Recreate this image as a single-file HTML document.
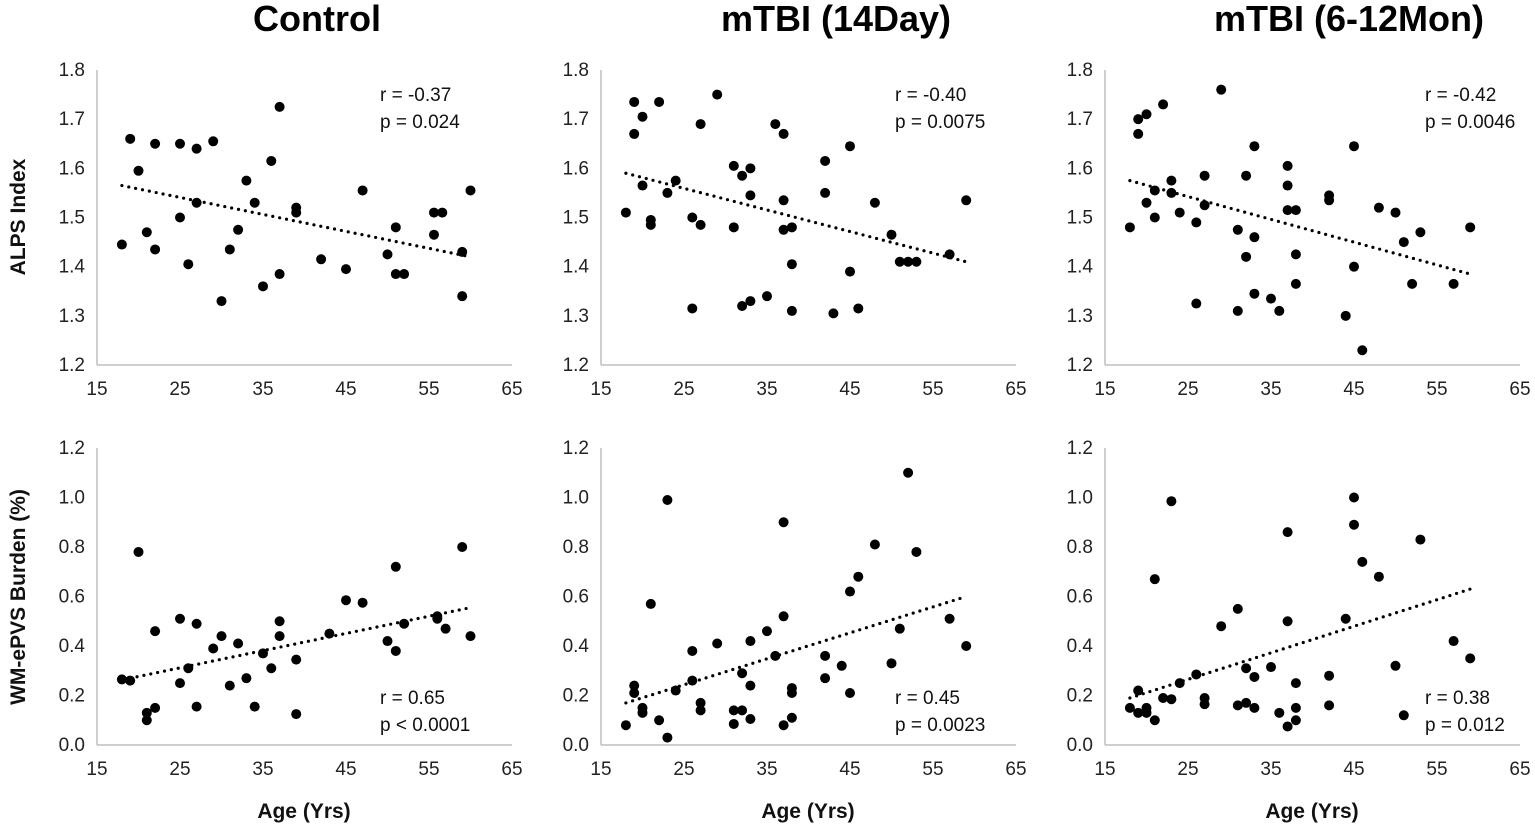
<!DOCTYPE html>
<html><head><meta charset="utf-8"><style>
body{margin:0;background:#fff;}
svg{display:block;font-family:"Liberation Sans",Arial,sans-serif;}
</style></head><body>
<svg id="chart" width="1535" height="832" viewBox="0 0 1535 832"></svg>
<script>
// ---- data ----
const xTicks = [15,25,35,45,55,65];
const yTicksTop = [1.2,1.3,1.4,1.5,1.6,1.7,1.8];
const yTicksBot = [0.0,0.2,0.4,0.6,0.8,1.0,1.2];
const panelTitles = ["Control","mTBI (14Day)","mTBI (6-12Mon)"];
const rTop = ["r = -0.37","r = -0.40","r = -0.42"];
const pTop = ["p = 0.024","p = 0.0075","p = 0.0046"];
const rBot = ["r = 0.65","r = 0.45","r = 0.38"];
const pBot = ["p < 0.0001","p = 0.0023","p = 0.012"];

const ctrlAge = [18,19,20,21,22,22,25,25,26,27,27,29,30,31,32,33,34,35,36,37,37,39,39,42,45,47,50,51,51,52,55.6,55.6,56.6,59,59,60];
const ctrlAlps = [1.445,1.66,1.595,1.47,1.435,1.65,1.65,1.50,1.405,1.64,1.53,1.655,1.33,1.435,1.475,1.575,1.53,1.36,1.615,1.725,1.385,1.52,1.51,1.415,1.395,1.555,1.425,1.48,1.385,1.385,1.465,1.51,1.51,1.43,1.34,1.555];
const ctrlAge2 = [18,19,20,21,21,22,22,25,25,26,27,27,29,30,31,32,33,34,35,36,37,37,39,39,43,45,47,50,51,51,52,56,56,57,59,60];
const ctrlPvs = [0.265,0.26,0.78,0.13,0.10,0.15,0.46,0.51,0.25,0.31,0.49,0.155,0.39,0.44,0.24,0.41,0.27,0.155,0.37,0.31,0.50,0.44,0.345,0.125,0.45,0.585,0.575,0.42,0.38,0.72,0.49,0.52,0.51,0.47,0.80,0.44];

const d14Age = [18,19,19,20,20,21,21,22,23,24,26,26,27,27,29,31,31,32,32,33,33,33,35,36,37,37,37,38,38,38,42,42,43,45,45,46,48,50,51,52,53,57,59];
const d14Alps = [1.51,1.735,1.67,1.705,1.565,1.495,1.485,1.735,1.55,1.575,1.50,1.315,1.69,1.485,1.75,1.605,1.48,1.585,1.32,1.60,1.545,1.33,1.34,1.69,1.67,1.535,1.475,1.48,1.405,1.31,1.615,1.55,1.305,1.645,1.39,1.315,1.53,1.465,1.41,1.41,1.41,1.425,1.535];
const d14Age2 = [18,19,19,20,20,21,22,23,23,24,26,26,27,27,29,31,31,32,32,33,33,33,35,36,37,37,37,38,38,38,42,42,44,45,45,46,48,50,51,52,53,57,59];
const d14Pvs = [0.08,0.24,0.21,0.15,0.13,0.57,0.10,0.99,0.03,0.22,0.38,0.26,0.17,0.14,0.41,0.14,0.085,0.29,0.14,0.42,0.24,0.105,0.46,0.36,0.90,0.52,0.08,0.23,0.21,0.11,0.36,0.27,0.32,0.62,0.21,0.68,0.81,0.33,0.47,1.10,0.78,0.51,0.40];

const m6Age = [18,19,19,20,20,21,21,22,23,23,24,26,26,27,27,29,31,31,32,32,33,33,33,35,36,37,37,37,38,38,38,42,42,44,45,45,46,48,50,51,52,53,57,59];
const m6Alps = [1.48,1.70,1.67,1.71,1.53,1.555,1.50,1.73,1.575,1.55,1.51,1.49,1.325,1.585,1.525,1.76,1.31,1.475,1.585,1.42,1.645,1.46,1.345,1.335,1.31,1.605,1.565,1.515,1.515,1.425,1.365,1.545,1.535,1.30,1.645,1.40,1.23,1.52,1.51,1.45,1.365,1.47,1.365,1.48];
const m6Age2 = [18,19,19,20,20,21,21,22,23,23,24,26,27,27,29,31,31,32,32,33,33,35,36,37,37,37,38,38,38,42,42,44,45,45,46,48,50,51,53,57,59];
const m6Pvs = [0.15,0.22,0.13,0.15,0.13,0.10,0.67,0.19,0.985,0.185,0.25,0.285,0.19,0.165,0.48,0.55,0.16,0.31,0.17,0.275,0.15,0.315,0.13,0.86,0.50,0.075,0.25,0.15,0.10,0.28,0.16,0.51,1.00,0.89,0.74,0.68,0.32,0.12,0.83,0.42,0.35];

const trendTopX = [[18,60],[18,59],[18,59]];
const trendTopY = [[1.565,1.42],[1.59,1.41],[1.575,1.385]];
const trendBotX = [[19,60],[18,59],[18,59]];
const trendBotY = [[0.27,0.555],[0.17,0.60],[0.19,0.63]];

const topAges = [ctrlAge,d14Age,m6Age], topVals=[ctrlAlps,d14Alps,m6Alps];
const botAges = [ctrlAge2,d14Age2,m6Age2], botVals=[ctrlPvs,d14Pvs,m6Pvs];

// ---- layout ----
const NS="http://www.w3.org/2000/svg";
const svg=document.getElementById('chart');
const panelX0=[97,601,1105], panelW=415;
const titleCx=[317,836,1349];
const statDx=[283,294,320];
const rowTop={y0:70,y1:365,min:1.2,max:1.8}, rowBot={y0:448,y1:745,min:0,max:1.2};
function el(tag,attrs,parent){const e=document.createElementNS(NS,tag);for(const k in attrs)e.setAttribute(k,attrs[k]);(parent||svg).appendChild(e);return e;}
function txt(s,attrs,parent){const e=el('text',attrs,parent);e.textContent=s;return e;}

function drawPanel(c,row,ticks,ages,vals,tx,ty,rl,pl,rY,name){
  const x0=panelX0[c];
  const sx=v=>x0+(v-15)/50*panelW;
  const sy=v=>row.y1-(v-row.min)/(row.max-row.min)*(row.y1-row.y0);
  const g=el('g',{});
  
  
  const ya=el('line',{x1:x0,y1:row.y0,x2:x0,y2:row.y1,stroke:'#bfbfbf','stroke-width':1.5},g);
  
  const xa=el('line',{x1:x0,y1:row.y1,x2:x0+panelW,y2:row.y1,stroke:'#bfbfbf','stroke-width':1.5},g);
  
  ticks.forEach(t=>{
    const l=txt(t.toFixed(1),{x:x0-12,y:sy(t)+6,'text-anchor':'end','font-size':19,fill:'#222'},g);
    
  });
  xTicks.forEach(t=>{
    const l=txt(String(t),{x:sx(t),y:row.y1+30,'text-anchor':'middle','font-size':19,fill:'#222'},g);
    
  });
  const tl=el('line',{x1:sx(tx[0]),y1:sy(ty[0]),x2:sx(tx[1]),y2:sy(ty[1]),stroke:'#000','stroke-width':3.2,'stroke-dasharray':'0 7','stroke-linecap':'round'},g);
  
  ages.forEach((a,i)=>{
    const p=el('circle',{cx:sx(a),cy:sy(vals[i]),r:5,fill:'#000'},g);
    
    
  });
  const r=txt(rl,{x:x0+statDx[c],y:rY,'font-size':19,fill:'#111'},g);
  
  const p=txt(pl,{x:x0+statDx[c],y:rY+27,'font-size':19,fill:'#111'},g);
  
}

for(let c=0;c<3;c++){
  const t=txt(panelTitles[c],{x:titleCx[c],y:31,'text-anchor':'middle','font-size':36,'font-weight':'bold',fill:'#000'});
  
  drawPanel(c,rowTop,yTicksTop,topAges[c],topVals[c],trendTopX[c],trendTopY[c],rTop[c],pTop[c],101,'alps-panel');
  drawPanel(c,rowBot,yTicksBot,botAges[c],botVals[c],trendBotX[c],trendBotY[c],rBot[c],pBot[c],704,'pvs-panel');
  const ax=txt('Age (Yrs)',{x:panelX0[c]+207,y:818,'text-anchor':'middle','font-size':21,'font-weight':'bold',fill:'#111'});
  
}
const y1=txt('ALPS Index',{x:0,y:0,'text-anchor':'middle','font-size':21,'font-weight':'bold',fill:'#111',transform:'translate(25,217) rotate(-90)'});

const y2=txt('WM-ePVS Burden (%)',{x:0,y:0,'text-anchor':'middle','font-size':21,'font-weight':'bold',fill:'#111',transform:'translate(25,597) rotate(-90)'});

</script>
</body></html>
